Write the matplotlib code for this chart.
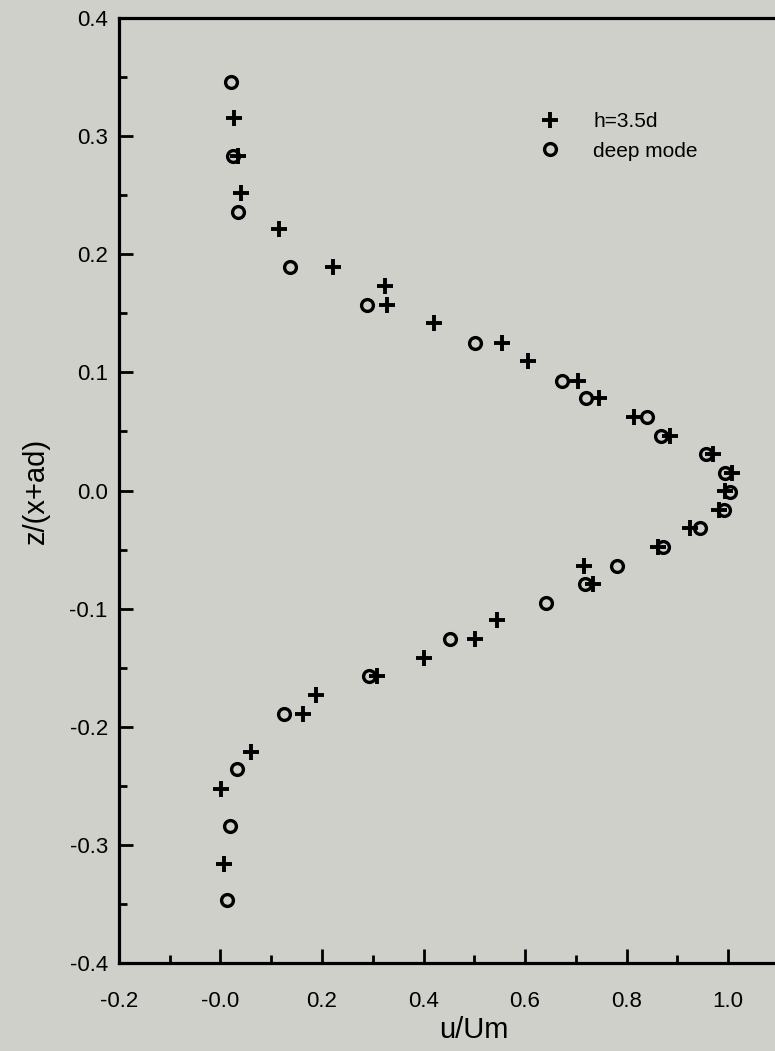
import matplotlib
matplotlib.use("Agg")
import matplotlib.pyplot as plt
from matplotlib.ticker import MultipleLocator, FormatStrFormatter

# h=3.5d series
h35_u = [0.026, 0.035, 0.040, 0.115, 0.221, 0.324, 0.328, 0.421, 0.554, 0.606,
         0.705, 0.745, 0.814, 0.886, 0.971, 1.007, 0.994, 0.983, 0.924, 0.861,
         0.717, 0.734, 0.545, 0.502, 0.401, 0.308, 0.189, 0.162, 0.061, 0.001,
         0.007]
h35_z = [0.315, 0.283, 0.252, 0.221, 0.189, 0.173, 0.157, 0.142, 0.125, 0.110,
         0.093, 0.078, 0.062, 0.046, 0.031, 0.015, 0.000, -0.0165, -0.032, -0.048,
         -0.064, -0.079, -0.110, -0.126, -0.142, -0.157, -0.173, -0.189, -0.221, -0.2525,
         -0.316]

# deep mode series
deep_u = [0.021, 0.025, 0.034, 0.136, 0.289, 0.502, 0.673, 0.720, 0.840, 0.868,
          0.957, 0.994, 1.004, 0.992, 0.945, 0.871, 0.781, 0.719, 0.641, 0.453,
          0.293, 0.125, 0.033, 0.018, 0.012]
deep_z = [0.346, 0.283, 0.236, 0.189, 0.157, 0.125, 0.093, 0.078, 0.062, 0.046,
          0.031, 0.015, -0.001, -0.0165, -0.032, -0.048, -0.064, -0.079, -0.095, -0.126,
          -0.157, -0.189, -0.236, -0.284, -0.347]

bg = '#cfd0ca'
plt.rcParams['font.family'] = ['Liberation Sans', 'DejaVu Sans']

fig = plt.figure(figsize=(7.75, 10.51), dpi=100, facecolor=bg)
# axes run past the right edge of the figure, as in the scanned original
ax = fig.add_axes([0.1535, 0.0837, 0.917, 0.8992], facecolor=bg)

ax.plot(h35_u, h35_z, linestyle='none', marker='+', markersize=12,
        markeredgewidth=2.8, color='black', label='h=3.5d')
ax.plot(deep_u, deep_z, linestyle='none', marker='o', markersize=8.5,
        markeredgewidth=2.4, markerfacecolor='none', markeredgecolor='black',
        label='deep mode')

ax.set_xlim(-0.2, 1.2)
ax.set_ylim(-0.4, 0.4)

ax.xaxis.set_major_locator(MultipleLocator(0.2))
ax.xaxis.set_minor_locator(MultipleLocator(0.1))
ax.yaxis.set_major_locator(MultipleLocator(0.1))
ax.yaxis.set_minor_locator(MultipleLocator(0.05))
ax.yaxis.set_major_formatter(FormatStrFormatter('%.1f'))
ax.set_xticks([-0.2, 0.0, 0.2, 0.4, 0.6, 0.8, 1.0])
ax.set_xticklabels(['-0.2', '-0.0', '0.2', '0.4', '0.6', '0.8', '1.0'])

ax.tick_params(which='both', direction='in', width=2, colors='black',
               labelsize=16, top=False, right=False)
ax.tick_params(which='major', length=10)
ax.tick_params(which='minor', length=6)
ax.tick_params(axis='y', which='major', pad=8)
ax.tick_params(axis='x', which='major', pad=20)

for s in ax.spines.values():
    s.set_linewidth(2.3)

ax.set_xlabel('u/Um', fontsize=21, labelpad=3)
ax.set_ylabel('z/(x+ad)', fontsize=21, labelpad=14)

ax.legend(loc='upper left', bbox_to_anchor=(0.565, 0.92), frameon=False,
          fontsize=15, handlelength=1.0, handletextpad=1.6, labelspacing=0.5)

fig.savefig('out.png', dpi=100, facecolor=bg)
